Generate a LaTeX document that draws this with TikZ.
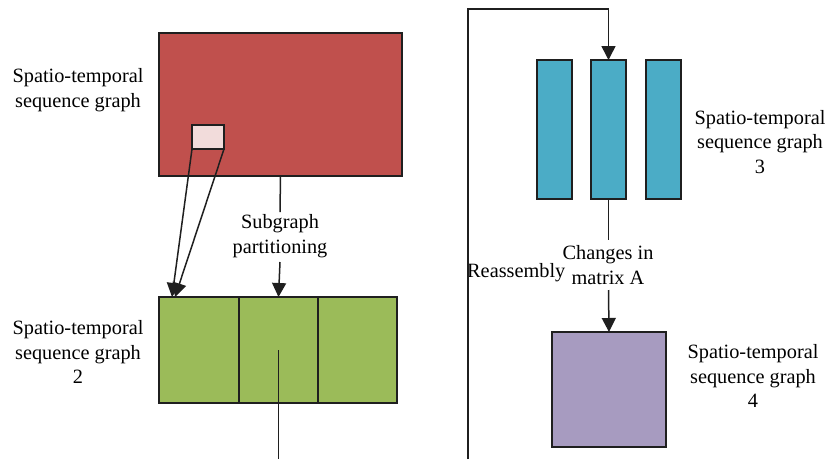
\documentclass[tikz,border=0pt]{standalone}
\usepackage{fontspec}
\setmainfont{Liberation Serif}
\usetikzlibrary{arrows.meta}
\definecolor{redbox}{HTML}{C0504D}
\definecolor{pinkbox}{HTML}{F2DCDB}
\definecolor{greenbox}{HTML}{9BBB59}
\definecolor{bluebox}{HTML}{4BACC6}
\definecolor{purplebox}{HTML}{A79BC0}
\definecolor{edge}{HTML}{1F1F1F}
\begin{document}
\begin{tikzpicture}[x=1pt,y=-1pt,
  box/.style={draw=edge,line width=1.6pt,inner sep=0pt,outer sep=0pt},
  conn/.style={draw=edge,line width=1.5pt},
  arr/.style={conn,-{Triangle[width=14pt,length=14pt]}},
  lbl/.style={align=center,inner sep=0pt,font=\fontsize{20.3}{24.5}\selectfont},
]
\useasboundingbox (0,0) rectangle (833,459);

% source graph with a selected sub-block
\node[box,fill=redbox,minimum width=243pt,minimum height=143pt] (red) at (280.5,104.5) {};
\node[box,fill=pinkbox,minimum width=32pt,minimum height=24pt] (sel) at (208,137) {};
\node[lbl] (l1) at (78,90) {Spatio-temporal\\sequence graph};

% partitioned graph
\node[box,fill=greenbox,minimum width=80pt,minimum height=106pt] (g1) at (199,350) {};
\node[box,fill=greenbox,minimum width=79pt,minimum height=106pt] (g2) at (278.5,350) {};
\node[box,fill=greenbox,minimum width=79pt,minimum height=106pt] (g3) at (357.5,350) {};
\node[lbl] (l2) at (78,352) {Spatio-temporal\\sequence graph\\2};

% reassembled graph
\node[box,fill=bluebox,minimum width=35pt,minimum height=139pt] (b1) at (554.5,129.5) {};
\node[box,fill=bluebox,minimum width=35pt,minimum height=139pt] (b2) at (608.5,129.5) {};
\node[box,fill=bluebox,minimum width=35pt,minimum height=139pt] (b3) at (663.5,129.5) {};
\node[lbl] (l3) at (760,142) {Spatio-temporal\\sequence graph\\3};

% final graph
\node[box,fill=purplebox,minimum width=114pt,minimum height=115pt] (pur) at (609,389.5) {};
\node[lbl] (l4) at (753,376) {Spatio-temporal\\sequence graph\\4};

% step labels
\node[lbl] (sub) at (280,236) {Subgraph\\partitioning};
\node[lbl] (chg) at (608,265) {Changes in\\matrix A};
\node[lbl,anchor=west] (reas) at (467,273) {Reassembly};

% connector end points
\coordinate (subtop) at (280,212);
\coordinate (subbot) at (280,262);
\coordinate (chgtop) at (608.5,240);
\coordinate (chgbot) at (608.5,290);
\coordinate (hitA) at (172,297);
\coordinate (hitB) at (175,297);
\coordinate (gdown) at (278.5,459);
\coordinate (rup) at (468,459);
\coordinate (rtop) at (468,9);
\coordinate (btop) at (608.5,9);

% connectors
\draw[conn] (red.south) -- (subtop);
\draw[arr] (subbot) -- (g2.north);
\draw[arr] (sel.south west) -- (hitA);
\draw[arr] (sel.south east) -- (hitB);
\draw[conn] (g2.center) -- (gdown);
\draw[arr] (rup) -- (rtop) -- (btop) -- (b2.north);
\draw[conn] (b2.south) -- (chgtop);
\draw[arr] (chgbot) -- (pur.north);
\end{tikzpicture}
\end{document}
